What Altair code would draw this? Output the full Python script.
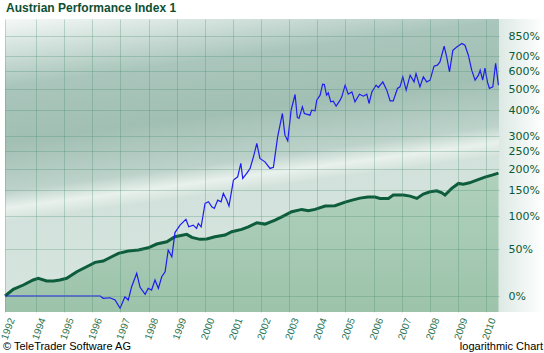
import altair as alt
import pandas as pd

W, H = 494, 293

# ---- data ----
blue_t = [
    1992.90, 1996.28, 1996.39, 1996.63, 1996.81, 1996.99, 1997.16, 1997.28, 1997.40, 1997.58,
    1997.70, 1997.88, 1997.99, 1998.11, 1998.23, 1998.35, 1998.47, 1998.59, 1998.70, 1998.83,
    1998.94, 1999.12, 1999.33, 1999.43, 1999.59, 1999.71, 1999.77, 1999.87, 2000.01, 2000.13,
    2000.25, 2000.34, 2000.46, 2000.58, 2000.66, 2000.78, 2000.86, 2001.02, 2001.17, 2001.28,
    2001.35, 2001.49, 2001.61, 2001.73, 2001.85, 2001.96, 2002.14, 2002.32, 2002.44, 2002.59,
    2002.76, 2002.85, 2002.95, 2003.07, 2003.21, 2003.29, 2003.35, 2003.47, 2003.54, 2003.74,
    2003.80, 2003.92, 2003.98, 2004.10, 2004.19, 2004.25, 2004.33, 2004.39, 2004.48, 2004.57,
    2004.67, 2004.81, 2004.87, 2004.99, 2005.10, 2005.23, 2005.34, 2005.50, 2005.64, 2005.76,
    2005.84, 2005.94, 2006.09, 2006.17, 2006.33, 2006.47, 2006.59, 2006.70, 2006.85, 2006.94,
    2007.04, 2007.16, 2007.30, 2007.44, 2007.51, 2007.65, 2007.77, 2007.89, 2008.01, 2008.15,
    2008.27, 2008.36, 2008.51, 2008.60, 2008.70, 2008.82, 2008.96, 2009.14, 2009.25, 2009.37,
    2009.49, 2009.61, 2009.73, 2009.79, 2009.88, 2009.96, 2010.05, 2010.12, 2010.24, 2010.34,
    2010.44,
]
blue_pct = [
    0, 0, -2.0, -1.5, -3.4, -10.1, -0.6, -3.4, 8.4, 21.7,
    7.8, 1.5, 6.9, 5.3, 14.9, 6.9, 18.2, 23.4, 48.9, 40.5,
    73.3, 84.9, 94.3, 82.2, 84.9, 79.7, 87.7, 82.2, 123.2, 126.3,
    116.7, 113.7, 129.6, 126.3, 143.3, 129.6, 118.0, 173.0, 180.9, 215.5,
    177.1, 189.3, 202.1, 234.1, 275.2, 229.5, 219.9, 202.1, 204.8, 297.2,
    386.4, 303.1, 283.7, 400.5, 473.4, 369.9, 365.9, 415.1, 386.4, 379.3,
    400.5, 397.5, 445.8, 470.0, 527.0, 525.0, 470.0, 481.4, 437.9, 441.2,
    418.2, 445.8, 461.7, 521.5, 475.0, 486.5, 437.9, 475.0, 465.1, 475.0,
    430.4, 486.5, 521.5, 509.3, 539.6, 495.2, 442.5, 442.5, 504.0, 512.5,
    567.9, 495.2, 577.7, 539.6, 587.8, 512.5, 567.9, 539.6, 549.0, 632.7,
    639.1, 660.5, 771.2, 694.1, 597.4, 741.5, 765.9, 791.8, 778.8, 706.0,
    607.8, 549.0, 577.7, 607.8, 549.0, 620.1, 537.9, 504.0, 512.5, 651.9,
    521.5,
]

green_t = [
    1992.90, 1993.19, 1993.55, 1993.90, 1994.08, 1994.38, 1994.62, 1994.85, 1995.09, 1995.45,
    1995.80, 1996.10, 1996.39, 1996.69, 1996.93, 1997.28, 1997.64, 1997.99, 1998.29, 1998.65,
    1998.94, 1999.36, 1999.54, 1999.83, 2000.07, 2000.36, 2000.72, 2000.96, 2001.31, 2001.55,
    2001.85, 2002.14, 2002.50, 2002.79, 2003.09, 2003.45, 2003.68, 2003.92, 2004.28, 2004.63,
    2004.99, 2005.24, 2005.52, 2005.80, 2006.05, 2006.23, 2006.53, 2006.70, 2007.06, 2007.30,
    2007.54, 2007.77, 2008.01, 2008.25, 2008.43, 2008.54, 2008.78, 2009.02, 2009.19, 2009.41,
    2009.67, 2009.96, 2010.21, 2010.44,
]
green_pct = [
    0, 6.0, 10.0, 14.9, 16.6, 13.9, 13.9, 14.9, 16.6, 23.4,
    28.9, 33.9, 35.4, 40.5, 44.7, 47.6, 48.9, 51.9, 56.9, 60.0,
    67.1, 70.6, 66.2, 63.4, 63.8, 67.1, 69.6, 74.5, 78.2, 82.2,
    88.6, 86.5, 93.1, 99.9, 107.5, 111.8, 109.3, 111.8, 118.0, 118.6,
    125.7, 129.6, 133.6, 135.7, 135.7, 133.0, 133.0, 139.8, 139.8, 137.7,
    133.0, 141.9, 146.7, 148.9, 144.6, 139.8, 154.1, 165.3, 163.7, 166.7,
    173.0, 180.2, 185.1, 190.1,
]

x_ticks = [1992.898, 1994, 1995, 1996, 1997, 1998, 1999, 2000, 2001, 2002,
           2003, 2004, 2005, 2006, 2007, 2008, 2009, 2010]
y_ticks = [1, 1.5, 2, 2.5, 3, 3.5, 4, 5, 6, 7, 8, 9.5]

title_text = "Austrian Performance Index 1"
copyright_text = "© TeleTrader Software AG"
scale_text = "logarithmic Chart"

blue = pd.DataFrame({"t": blue_t, "pct": blue_pct})
green = pd.DataFrame({"t": green_t, "pct": green_pct})
one = pd.DataFrame({"k": [0]})

Y_MIN, Y_MAX = 0.8706, 11.03
x_scale = alt.Scale(domain=[1992.898, 2010.46], nice=False, zero=False)
y_scale = alt.Scale(type="log", domain=[Y_MIN, Y_MAX], nice=False)

GRID = "#3d8a68"
x_axis = alt.Axis(values=x_ticks, labelExpr="'' + floor(datum.value)", title=None,
                  labelAngle=290, labelFont="Liberation Sans", labelFontSize=10,
                  labelColor="#2a7452", labelPadding=6, labelOffset=6.5,
                  ticks=False, domain=False, grid=True, gridColor=GRID, gridOpacity=0.28,
                  zindex=1, labelOverlap=False, labelFlush=False)
y_axis = alt.Axis(orient="right", values=y_ticks,
                  labelExpr="round((datum.value - 1) * 100) + '%'", title=None,
                  ticks=False, domain=False, labelFont="DejaVu Sans", labelFontSize=11,
                  labelColor="#0c5a37", labelPadding=9, grid=True, gridColor=GRID,
                  gridOpacity=0.28, zindex=1, labelOverlap=False, labelFlush=False)

X = alt.X("t:Q", scale=x_scale, axis=x_axis)
Y = alt.Y("level:Q", scale=y_scale, axis=y_axis)

# plot background: mostly vertical, slightly tilted so the light streak rises to the right
bg_grad = alt.Gradient(gradient="linear", x1=0, y1=0, x2=0.225, y2=1, stops=[
    alt.GradientStop(color="#f5f8f7", offset=0),
    alt.GradientStop(color="#d9e6e1", offset=0.08),
    alt.GradientStop(color="#aac6bc", offset=0.22),
    alt.GradientStop(color="#a2bfb4", offset=0.4),
    alt.GradientStop(color="#bcd2ca", offset=0.56),
    alt.GradientStop(color="#e9f1ed", offset=0.615),
    alt.GradientStop(color="#d2e1db", offset=0.66),
    alt.GradientStop(color="#d9e6e1", offset=1),
])
right_grad = alt.Gradient(gradient="linear", x1=0, x2=1, y1=0, y2=0, stops=[
    alt.GradientStop(color="#dde9e4", offset=0),
    alt.GradientStop(color="#ffffff", offset=1),
])
area_grad = alt.Gradient(gradient="linear", x1=0, x2=0, y1=0, y2=1, stops=[
    alt.GradientStop(color="#b0d1bc", offset=0),
    alt.GradientStop(color="#9dc3ab", offset=1),
])

bg = alt.Chart(one).mark_rect(color=bg_grad).encode(
    x=alt.value(0), x2=alt.value(W), y=alt.value(0), y2=alt.value(H))
right = alt.Chart(one).mark_rect(color=right_grad).encode(
    x=alt.value(W), x2=alt.value(W + 45), y=alt.value(0), y2=alt.value(H))

calc = dict(level="1 + datum.pct / 100", base=str(Y_MIN))
area = alt.Chart(green).transform_calculate(**calc).mark_area(
    color=area_grad, interpolate="linear").encode(x=X, y=Y, y2="base:Q")
gline = alt.Chart(green).transform_calculate(**calc).mark_line(
    color="#0d5c3b", strokeWidth=3).encode(x=X, y=Y)
bline = alt.Chart(blue).transform_calculate(**calc).mark_line(
    color="#1c1cf2", strokeWidth=1.2).encode(x=X, y=Y)

t1 = alt.Chart(pd.DataFrame({"s": [copyright_text]})).mark_text(
    align="left", baseline="alphabetic", font="Liberation Sans", fontSize=11,
    color="#000000").encode(x=alt.value(-2), y=alt.value(331), text="s:N")
t2 = alt.Chart(pd.DataFrame({"s": [scale_text]})).mark_text(
    align="right", baseline="alphabetic", font="Liberation Sans", fontSize=11,
    color="#000000").encode(x=alt.value(W + 44), y=alt.value(331), text="s:N")

chart = alt.layer(bg, right, area, gline, bline, t1, t2).properties(
    width=W, height=H,
    title=alt.TitleParams(title_text, anchor="start", frame="group", fontSize=12,
                          font="Liberation Sans", fontWeight="bold", color="#0d4f33",
                          offset=4, dx=1),
    padding={"left": 5, "top": 19, "right": 45, "bottom": 41},
    autosize=alt.AutoSizeParams(type="none"),
).configure_view(stroke="transparent")

chart.save("out.html", embed_options={"renderer": "svg", "actions": False})
